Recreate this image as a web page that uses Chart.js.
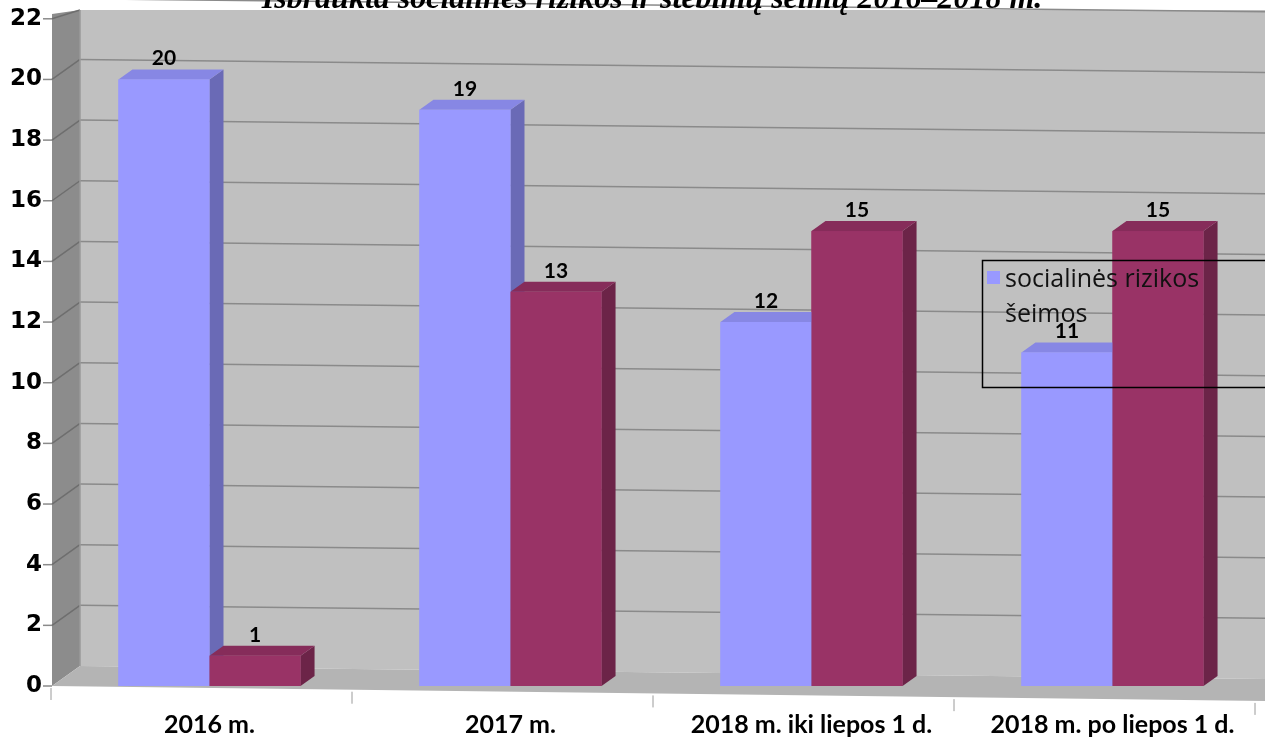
<!DOCTYPE html>
<html>
<head>
<meta charset="utf-8">
<script src="https://cdn.jsdelivr.net/npm/chart.js@4.4.0/dist/chart.umd.min.js"></script>
<style>
html, body { margin: 0; padding: 0; background: #fff; overflow: hidden; }
#wrap { position: absolute; left: -20px; top: -12px; width: 1285px; height: 752px; }
</style>
</head>
<body>
<div id="wrap"><canvas id="myChart"></canvas></div>
<script>
/*------------------------------DATA--------------------------------------------*/

const chartTitle = 'Išbraukta socialinės rizikos ir stebimų šeimų 2016–2018 m.';

const labels = [
    '2016 m.',
    '2017 m.',
    '2018 m. iki liepos 1 d.',
    '2018 m. po liepos 1 d.',
];

const seriesNames = ['socialinės rizikos šeimos', 'stebimos šeimos'];

const socialinesRizikos = [20, 19, 12, 11];
const stebimos = [1, 13, 15, 15];

const yMin = 0;
const yMax = 22;
const yStep = 2;

/*------------------------------STYLE-------------------------------------------*/

const SHIFT = 20;   // canvas is moved 20px left of the page
const SHIFT_Y = 12; // and 12px up
const faces = [
    { front: '#9999ff', side: '#6a6ab6', top: '#8787e4' },
    { front: '#993366', side: '#6c2448', top: '#862c5a' },
];
const DX = 14, DY = -10; // bar depth

/*------------------------------3D SCENE----------------------------------------*/

const scene = {
    id: 'scene',
    beforeDatasetsDraw(chart) {
        const ctx = chart.ctx;
        const { left } = chart.chartArea;
        const y = chart.scales.y;
        const W = chart.width;
        const fx = left - 7, bx = left + 21;
        const tilt = x => 13 * (x - bx) / (W - bx);
        const backY = (v, x) => y.getPixelForValue(v) - 20 + tilt(x);
        const y0 = y.getPixelForValue(0);
        const wallTop = 10 + SHIFT_Y;

        ctx.save();
        // back wall
        ctx.fillStyle = '#c0c0c0';
        ctx.beginPath();
        ctx.moveTo(bx, wallTop); ctx.lineTo(W, wallTop);
        ctx.lineTo(W, backY(0, W)); ctx.lineTo(bx, backY(0, bx));
        ctx.closePath(); ctx.fill();
        // left wall
        ctx.fillStyle = '#8c8c8c';
        ctx.beginPath();
        ctx.moveTo(fx, wallTop + 4); ctx.lineTo(bx, wallTop);
        ctx.lineTo(bx, backY(0, bx)); ctx.lineTo(fx, y0);
        ctx.closePath(); ctx.fill();
        // floor
        ctx.fillStyle = '#b4b4b4';
        ctx.beginPath();
        ctx.moveTo(fx, y0); ctx.lineTo(bx, backY(0, bx));
        ctx.lineTo(W, backY(0, W)); ctx.lineTo(W, y0 + 15);
        ctx.closePath(); ctx.fill();

        // grid lines
        ctx.lineWidth = 1.5;
        for (let v = yMin; v <= yMax; v += yStep) {
            const yv = y.getPixelForValue(v);
            if (v > 0) {
                ctx.strokeStyle = '#8a8a8a';
                ctx.beginPath();
                ctx.moveTo(bx, backY(v, bx)); ctx.lineTo(W, backY(v, W));
                ctx.stroke();
                ctx.strokeStyle = '#6e6e6e';
                ctx.beginPath();
                ctx.moveTo(fx, yv); ctx.lineTo(bx, Math.max(backY(v, bx), wallTop));
                ctx.stroke();
            }
            ctx.strokeStyle = '#8a8a8a';
            ctx.beginPath();
            ctx.moveTo(fx - 9, yv); ctx.lineTo(fx, yv);
            ctx.stroke();
        }
        // corner edge
        ctx.strokeStyle = '#9a9a9a';
        ctx.beginPath();
        ctx.moveTo(bx, wallTop); ctx.lineTo(bx, backY(0, bx));
        ctx.stroke();

        // category boundary ticks under the floor
        const x = chart.scales.x;
        const catW = (x.right - x.left) / labels.length;
        ctx.strokeStyle = '#9a9a9a';
        ctx.lineWidth = 1;
        for (let i = 0; i <= labels.length; i++) {
            const tx = x.left + i * catW - 8;
            const ty = y0 + 15 * (tx - fx) / (W - fx);
            ctx.beginPath();
            ctx.moveTo(tx, ty + 2); ctx.lineTo(tx, ty + 14);
            ctx.stroke();
        }
        ctx.restore();
    },
    afterDatasetsDraw(chart) {
        const ctx = chart.ctx;
        ctx.save();
        for (let i = 0; i < labels.length; i++) {
            chart.data.datasets.forEach((ds, d) => {
                const el = chart.getDatasetMeta(d).data[i];
                const c = faces[d];
                const x1 = el.x - el.width / 2, x2 = el.x + el.width / 2;
                const yt = el.y, yb = el.base;
                // side
                ctx.fillStyle = c.side;
                ctx.beginPath();
                ctx.moveTo(x2, yt); ctx.lineTo(x2 + DX, yt + DY);
                ctx.lineTo(x2 + DX, yb + DY); ctx.lineTo(x2, yb);
                ctx.closePath(); ctx.fill();
                // top
                ctx.fillStyle = c.top;
                ctx.beginPath();
                ctx.moveTo(x1, yt); ctx.lineTo(x1 + DX, yt + DY);
                ctx.lineTo(x2 + DX, yt + DY); ctx.lineTo(x2, yt);
                ctx.closePath(); ctx.fill();
                // front
                ctx.fillStyle = c.front;
                ctx.fillRect(x1, yt, x2 - x1, yb - yt);
            });
        }
        // value labels
        ctx.fillStyle = '#000';
        ctx.font = 'bold 21px Lato';
        ctx.textAlign = 'center';
        ctx.textBaseline = 'alphabetic';
        chart.data.datasets.forEach((ds, d) => {
            chart.getDatasetMeta(d).data.forEach((el, i) => {
                ctx.fillText(String(ds.data[i]), el.x, el.y - 14);
            });
        });

        // legend (only first entry is visible in the picture)
        const lx = 982 + SHIFT, ly = 260 + SHIFT_Y;
        ctx.strokeStyle = '#000';
        ctx.lineWidth = 1.5;
        ctx.strokeRect(lx + 0.5, ly + 0.5, 330, 127);
        ctx.fillStyle = faces[0].front;
        ctx.fillRect(lx + 5, ly + 11, 13, 13);
        ctx.fillStyle = '#111';
        ctx.font = '25px "Open Sans"';
        ctx.textAlign = 'left';
        const words = seriesNames[0].split(' ');
        const lines = [];
        let cur = '';
        words.forEach(w => {
            const t = cur ? cur + ' ' + w : w;
            if (ctx.measureText(t).width > 230 && cur) { lines.push(cur); cur = w; }
            else cur = t;
        });
        lines.push(cur);
        lines.forEach((t, k) => ctx.fillText(t, lx + 23, ly + 27 + k * 35));

        // title, cut at the top of the picture
        ctx.fillStyle = '#000';
        ctx.font = 'bold italic 100px "Liberation Serif"';
        const tw = ctx.measureText(chartTitle).width;
        ctx.font = 'bold italic ' + (100 * 780 / tw).toFixed(1) + 'px "Liberation Serif"';
        ctx.textAlign = 'center';
        ctx.fillText(chartTitle, 652 + SHIFT, 8 + SHIFT_Y);
        ctx.restore();
    }
};

/*------------------------------CHART-------------------------------------------*/

const data = {
    labels: labels,
    datasets: [{
        label: seriesNames[0],
        backgroundColor: faces[0].front,
        data: socialinesRizikos,
    }, {
        label: seriesNames[1],
        backgroundColor: faces[1].front,
        data: stebimos,
    }]
};

const config = {
    type: 'bar',
    data: data,
    options: {
        responsive: true,
        maintainAspectRatio: false,
        animation: false,
        categoryPercentage: 0.605,
        barPercentage: 1.0,
        layout: { padding: { top: 0, right: 2, left: 0, bottom: 0 } },
        plugins: {
            legend: { display: false },
            tooltip: { enabled: false },
        },
        scales: {
            x: {
                grid: { display: false, drawTicks: false },
                border: { display: false },
                ticks: {
                    color: '#000',
                    font: { family: 'Lato', size: 25, weight: 'bold' },
                    padding: 24,
                    maxRotation: 0,
                    autoSkip: false,
                },
                afterFit(scale) { scale.height = 54; },
            },
            y: {
                min: yMin,
                max: yMax,
                grid: { display: false, drawTicks: false },
                border: { display: false },
                ticks: {
                    stepSize: yStep,
                    color: '#000',
                    font: { family: 'DejaVu Sans', size: 23, weight: 'bold' },
                    padding: 17,
                },
                afterFit(scale) { scale.width = 79; },
            }
        }
    },
    plugins: [scene]
};

const myChart = new Chart(
    document.getElementById('myChart'),
    config
);
</script>
</body>
</html>
